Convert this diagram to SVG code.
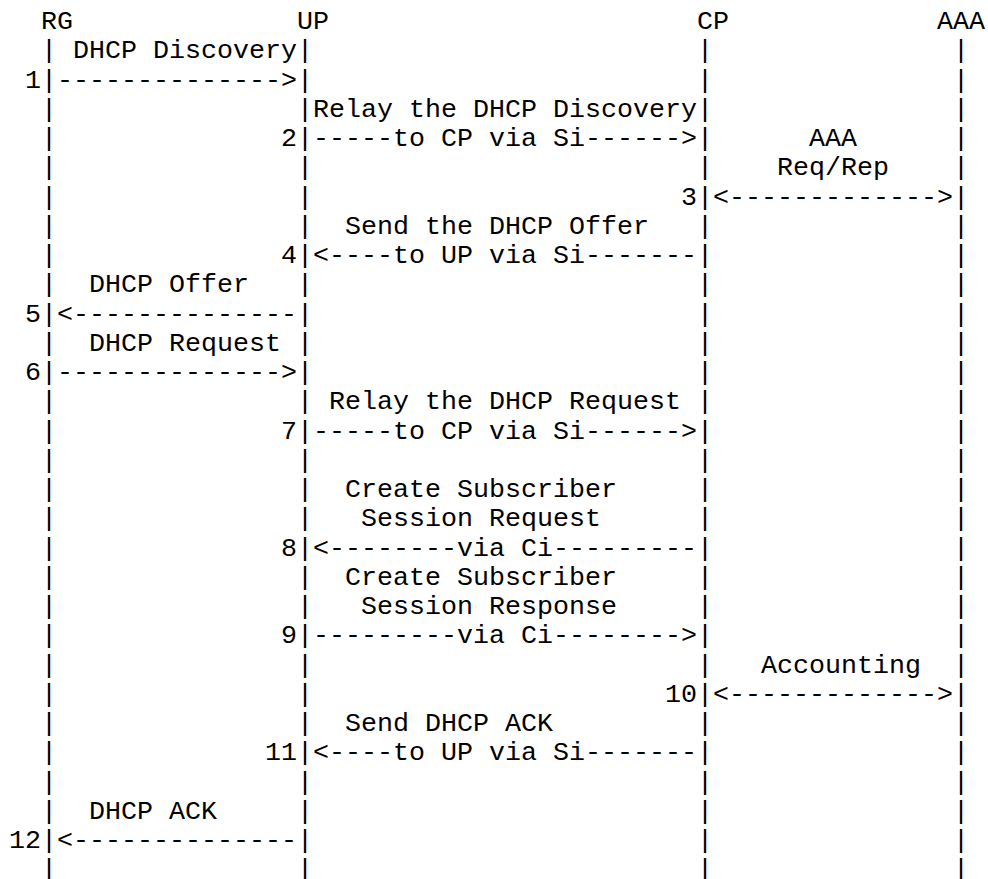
<svg xmlns="http://www.w3.org/2000/svg" width="988" height="879" viewBox="0 0 988 879">
<style>
text{font-family:"Liberation Mono","Courier New",monospace;font-size:26.67px;fill:#000;}
</style>
<rect width="988" height="879" fill="#fff"/>
<defs>
<text id="life"><tspan x="0" y="58.25">|</tspan><tspan x="0" dy="29.25">|</tspan><tspan x="0" dy="29.25">|</tspan><tspan x="0" dy="29.25">|</tspan><tspan x="0" dy="29.25">|</tspan><tspan x="0" dy="29.25">|</tspan><tspan x="0" dy="29.25">|</tspan><tspan x="0" dy="29.25">|</tspan><tspan x="0" dy="29.25">|</tspan><tspan x="0" dy="29.25">|</tspan><tspan x="0" dy="29.25">|</tspan><tspan x="0" dy="29.25">|</tspan><tspan x="0" dy="29.25">|</tspan><tspan x="0" dy="29.25">|</tspan><tspan x="0" dy="29.25">|</tspan><tspan x="0" dy="29.25">|</tspan><tspan x="0" dy="29.25">|</tspan><tspan x="0" dy="29.25">|</tspan><tspan x="0" dy="29.25">|</tspan><tspan x="0" dy="29.25">|</tspan><tspan x="0" dy="29.25">|</tspan><tspan x="0" dy="29.25">|</tspan><tspan x="0" dy="29.25">|</tspan><tspan x="0" dy="29.25">|</tspan><tspan x="0" dy="29.25">|</tspan><tspan x="0" dy="29.25">|</tspan><tspan x="0" dy="29.25">|</tspan><tspan x="0" dy="29.25">|</tspan><tspan x="0" dy="29.25">|</tspan></text>
</defs>
<g id="node-RG"><text x="41" y="29">RG</text><use href="#life" x="41"/></g>
<g id="node-UP"><text x="297" y="29">UP</text><use href="#life" x="297"/></g>
<g id="node-CP"><text x="697" y="29">CP</text><use href="#life" x="697"/></g>
<g id="node-AAA"><text x="937" y="29">AAA</text><use href="#life" x="953"/></g>
<g id="connectors">
<text x="57" y="87.5">--------------&gt;</text>
<text x="313" y="146">-----to CP via Si------&gt;</text>
<text x="713" y="204.5">&lt;-------------&gt;</text>
<text x="313" y="263">&lt;----to UP via Si-------</text>
<text x="57" y="321.5">&lt;--------------</text>
<text x="57" y="380">--------------&gt;</text>
<text x="313" y="438.5">-----to CP via Si------&gt;</text>
<text x="313" y="555.5">&lt;--------via Ci---------</text>
<text x="313" y="643.25">---------via Ci--------&gt;</text>
<text x="713" y="701.75">&lt;-------------&gt;</text>
<text x="313" y="760.25">&lt;----to UP via Si-------</text>
<text x="57" y="848">&lt;--------------</text>
</g>
<g id="labels">
<text x="73" y="58.25">DHCP Discovery</text>
<text x="313" y="116.75">Relay the DHCP Discovery</text>
<text x="809" y="146">AAA</text>
<text x="777" y="175.25">Req/Rep</text>
<text x="345" y="233.75">Send the DHCP Offer</text>
<text x="89" y="292.25">DHCP Offer</text>
<text x="89" y="350.75">DHCP Request</text>
<text x="329" y="409.25">Relay the DHCP Request</text>
<text x="345" y="497">Create Subscriber</text>
<text x="361" y="526.25">Session Request</text>
<text x="345" y="584.75">Create Subscriber</text>
<text x="361" y="614">Session Response</text>
<text x="761" y="672.5">Accounting</text>
<text x="345" y="731">Send DHCP ACK</text>
<text x="89" y="818.75">DHCP ACK</text>
</g>
<g id="steps">
<text x="25" y="87.5">1</text>
<text x="281" y="146">2</text>
<text x="681" y="204.5">3</text>
<text x="281" y="263">4</text>
<text x="25" y="321.5">5</text>
<text x="25" y="380">6</text>
<text x="281" y="438.5">7</text>
<text x="281" y="555.5">8</text>
<text x="281" y="643.25">9</text>
<text x="665" y="701.75">10</text>
<text x="265" y="760.25">11</text>
<text x="9" y="848">12</text>
</g>
</svg>
